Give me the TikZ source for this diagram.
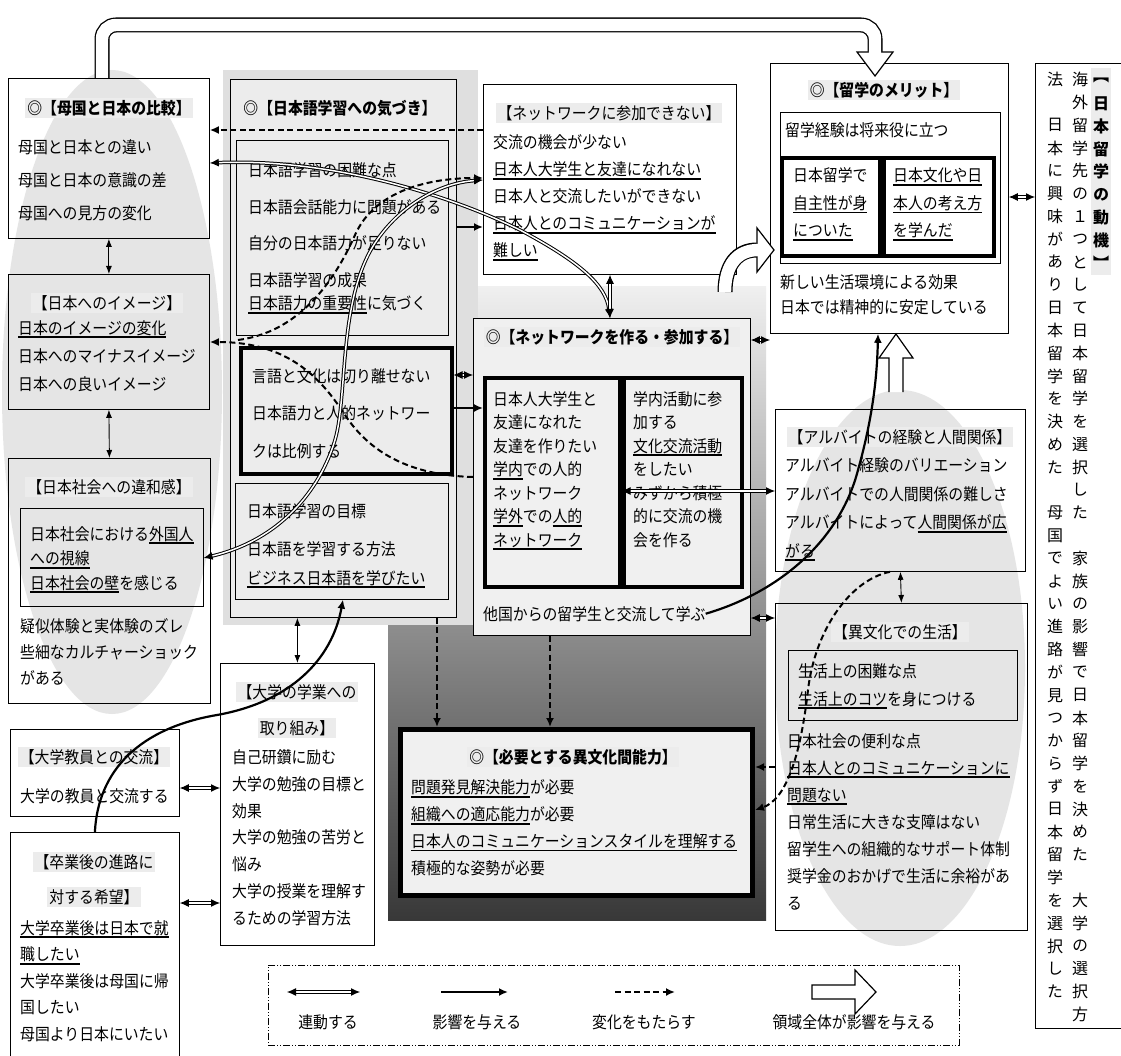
\documentclass[tikz,border=0pt]{standalone}
\usepackage{fontspec}
\setmainfont{Noto Sans CJK JP}[FakeStretch=0.9]
\newfontfamily\tatefont{Noto Sans CJK JP}[RawFeature=+vert]
\usetikzlibrary{arrows.meta}
\newcommand\ulj[1]{\setbox0\hbox{#1}\rlap{\rule[-4pt]{\wd0}{1.8pt}}\box0}
\newcommand\tateend{}
\def\tatechar#1{\ifx\tateend#1\else\vbox to 22.8pt{\vss\hbox to 18pt{\hss#1\hss}\vss}\expandafter\tatechar\fi}
\newcommand\tate[1]{\vbox{\offinterlineskip\tatechar#1\tateend}}

\begin{document}
\begin{tikzpicture}[x=1pt,y=-1pt,
  font=\fontsize{16.5}{22}\selectfont,
  panel/.style={draw,line width=0.8pt,anchor=north west,inner sep=0pt},
  heavy/.style={panel,line width=3.5pt},
  ttl/.style={fill=gray!15,inner sep=2pt,font=\fontsize{16.5}{22}\selectfont\bfseries},
  sub/.style={fill=gray!15,inner sep=2pt},
  lines/.style={anchor=base west,align=left,inner sep=0pt,font=\fontsize{16.5}{#1}\selectfont},
  lines/.default=27pt,
  link/.style={double,double distance=1.5pt,line width=1pt,{Latex[length=9pt,width=8pt]}-{Latex[length=9pt,width=8pt]}},
  twoway/.style={line width=0.9pt,{Latex[length=8pt,width=6pt]}-{Latex[length=8pt,width=6pt]}},
  effect/.style={line width=2.2pt,-{Latex[length=9pt,width=8pt]}},
  change/.style={line width=2pt,dash pattern=on 6pt off 3.5pt,-{Latex[length=9pt,width=8pt]}},
  pipe/.style={line width=15pt},
  pipein/.style={white,line width=12.4pt},
  head/.style={fill=white,draw,line width=1.2pt,line join=miter}]
  \fill[white] (0,0) rectangle (1121,1056);
  \useasboundingbox (0,0) rectangle (1121,1056);
  \shade[top color=gray!12,bottom color=black!78] (388,287) rectangle (766,920);
  \fill[gray!25] (223,70) rectangle (478,625);
  \fill[gray!20] (112,392) ellipse [x radius=110pt,y radius=322pt];
  \fill[gray!20] (900,668) ellipse [x radius=125pt,y radius=278pt];

  \node[panel,minimum width=201pt,minimum height=160pt] (hikaku) at (8,78) {};
  \node[panel,minimum width=201pt,minimum height=135pt] (imagebox) at (8,274) {};
  \node[panel,minimum width=202pt,minimum height=245pt] (iwakan) at (8,458) {};
  \node[panel,line width=0.6pt,minimum width=183pt,minimum height=98pt] (shisen) at (20,508) {};
  \node[panel,fill=gray!15,minimum width=226pt,minimum height=538pt] (kizuki) at (230,79) {};
  \node[panel,line width=0.6pt,minimum width=212pt,minimum height=195pt] (konnan) at (236,140) {};
  \node[heavy,minimum width=211pt,minimum height=126pt] (hirei) at (239,346) {};
  \node[panel,line width=0.6pt,minimum width=213pt,minimum height=116pt] (mokuhyo) at (235,483) {};
  \node[panel,fill=white,minimum width=253pt,minimum height=190pt] (sankanashi) at (483,84) {};
  \node[panel,fill=white,minimum width=238pt,minimum height=270pt] (merit) at (770,63) {};
  \node[panel,line width=0.6pt,minimum width=220pt,minimum height=151pt] (yakudatsu) at (780,112) {};
  \node[heavy,line width=4pt,minimum width=98pt,minimum height=98pt] (jishu) at (780,156) {};
  \node[heavy,line width=4pt,minimum width=110pt,minimum height=98pt] (bunka) at (882,156) {};
  \node[panel,minimum width=95pt,minimum height=965pt] (doki) at (1035,63) {};
  \node[panel,fill=gray!12,minimum width=277pt,minimum height=317pt] (network) at (473,318) {};
  \node[heavy,minimum width=135pt,minimum height=209pt] (tomodachi) at (483,376) {};
  \node[heavy,minimum width=118pt,minimum height=209pt] (katsudo) at (622,376) {};
  \node[panel,minimum width=250pt,minimum height=162pt] (baito) at (775,409) {};
  \node[panel,minimum width=252pt,minimum height=327pt] (ibunka) at (775,603) {};
  \node[panel,line width=0.6pt,minimum width=229pt,minimum height=70pt] (seikatsu) at (788,650) {};
  \node[panel,line width=5pt,fill=gray!12,minimum width=352pt,minimum height=166pt] (noryoku) at (398,727) {};
  \node[panel,fill=white,minimum width=169pt,minimum height=87pt] (kyoin) at (10,729) {};
  \node[panel,fill=white,minimum width=154pt,minimum height=282pt] (gakugyo) at (220,663) {};
  \node[panel,fill=white,minimum width=169pt,minimum height=230pt] (shinro) at (10,832) {};
  \node[panel,dash pattern=on 7pt off 2pt on 1pt off 2pt on 1pt off 2pt,minimum width=691pt,minimum height=80pt] (legend) at (268,965) {};

  \node[ttl] (hikakuttl) at (109,108) {◎【母国と日本の比較】};
  \node[ttl] (kizukittl) at (340,108) {◎【日本語学習への気づき】};
  \node[sub] (imagettl) at (107,303) {【日本へのイメージ】};
  \node[sub] (iwakanttl) at (109,487) {【日本社会への違和感】};
  \node[sub] (sankattl) at (609,113) {【ネットワークに参加できない】};
  \node[ttl] (meritttl) at (884,90) {◎【留学のメリット】};
  \node[ttl] (networkttl) at (612,337) {◎【ネットワークを作る・参加する】};
  \node[sub] (baitottl) at (900,437) {【アルバイトの経験と人間関係】};
  \node[sub] (ibunkattl) at (900,632) {【異文化での生活】};
  \node[ttl] (noryokuttl) at (573,757) {◎【必要とする異文化間能力】};
  \node[sub] (kyointtl) at (94,757) {【大学教員との交流】};
  \node[sub] (gakugyottl) at (297,692) {【大学の学業への};
  \node[sub] (gakugyottlb) at (297,728) {取り組み】};
  \node[sub] (shinrottl) at (94,862) {【卒業後の進路に};
  \node[sub] (shinrottlb) at (94,897) {対する希望】};

  \node[lines=33pt] (hikakutxt) at (18,220) {母国と日本との違い\\母国と日本の意識の差\\母国への見方の変化};
  \node[lines=36.5pt] (konnantxt) at (248,310) {日本語学習の困難な点\\日本語会話能力に問題がある\\自分の日本語力が足りない\\日本語学習の成果\\[-13pt]\ulj{日本語力の重要性}に気づく};
  \node[lines=37.5pt] (hireitxt) at (252,457) {言語と文化は切り離せない\\日本語力と人的ネットワー\\クは比例する};
  \node[lines=38pt] (mokuhyotxt) at (247,584) {日本語学習の目標\\日本語を学習する方法\\[-9pt]\ulj{ビジネス日本語を学びたい}};
  \node[lines=28pt] (imagetxt) at (18,390) {\ulj{日本のイメージの変化}\\日本へのマイナスイメージ\\日本への良いイメージ};
  \node[lines=24.5pt] (shisentxt) at (30,589) {日本社会における\ulj{外国人}\\\ulj{への視線}\\\ulj{日本社会の壁}を感じる};
  \node[lines=26pt] (iwakantxt) at (20,684) {疑似体験と実体験のズレ\\些細なカルチャーショック\\がある};
  \node[lines] (sankatxt) at (493,257) {交流の機会が少ない\\\ulj{日本人大学生と友達になれない}\\日本人と交流したいができない\\\ulj{日本人とのコミュニケーションが}\\\ulj{難しい}};
  \node[lines] (yakudatsutxt) at (785,137) {留学経験は将来役に立つ};
  \node[lines=27.5pt] (jishutxt) at (793,237) {日本留学で\\\ulj{自主性が身}\\\ulj{についた}};
  \node[lines=27.5pt] (bunkatxt) at (893,237) {\ulj{日本文化や日}\\\ulj{本人の考え方}\\\ulj{を学んだ}};
  \node[lines=25pt] (merittxt) at (780,314) {新しい生活環境による効果\\日本では精神的に安定している};
  \node[lines=23.5pt] (tomodachitxt) at (493,546) {日本人大学生と\\友達になれた\\友達を作りたい\\\ulj{学内}での人的\\ネットワーク\\\ulj{学外}での\ulj{人的}\\\ulj{ネットワーク}};
  \node[lines=23.5pt] (katsudotxt) at (633,546) {学内活動に参\\加する\\\ulj{文化交流活動}\\をしたい\\みずから積極\\的に交流の機\\会を作る};
  \node[lines] (tagoku) at (483,620) {他国からの留学生と交流して学ぶ};
  \node[lines=28.5pt] (baitotxt) at (785,557) {アルバイト経験のバリエーション\\アルバイトでの人間関係の難しさ\\アルバイトによって\ulj{人間関係が広}\\\ulj{がる}};
  \node[lines=28pt] (seikatsutxt) at (798,705) {生活上の困難な点\\\ulj{生活上のコツ}を身につける};
  \node[lines] (ibunkatxt) at (787,909) {日本社会の便利な点\\\ulj{日本人とのコミュニケーションに}\\\ulj{問題ない}\\日常生活に大きな支障はない\\留学生への組織的なサポート体制\\奨学金のおかげで生活に余裕があ\\る};
  \node[lines=26.7pt] (noryokutxt) at (411,874) {\ulj{問題発見解決能力}が必要\\\ulj{組織への適応能力}が必要\\\ulj{日本人のコミュニケーションスタイルを理解する}\\積極的な姿勢が必要};
  \node[lines] (kyointxt) at (20,802) {大学の教員と交流する};
  \node[lines=26.7pt] (gakugyotxt) at (232,924) {自己研鑽に励む\\大学の勉強の目標と\\効果\\大学の勉強の苦労と\\悩み\\大学の授業を理解す\\るための学習方法};
  \node[lines=26.5pt] (shinrotxt) at (20,1040) {\ulj{大学卒業後は日本で就}\\\ulj{職したい}\\大学卒業後は母国に帰\\国したい\\母国より日本にいたい};

  \node[sub,inner sep=1pt,anchor=north] (dokittl) at (1101,68) {\tatefont\bfseries\fontsize{16}{16}\selectfont\tate{【日本留学の動機】}};
  \node[anchor=north,inner sep=0pt] (dokia) at (1080,68) {\tatefont\fontsize{16}{16}\selectfont\tate{海外留学先の１つとして日本留学を選択した　家族の影響で日本留学を決めた　大学の選択方}};
  \node[anchor=north,inner sep=0pt] (dokib) at (1055,68) {\tatefont\fontsize{16}{16}\selectfont\tate{法　日本に興味があり日本留学を決めた　母国でよい進路が見つからず日本留学を選択した}};

  \draw[change] (sankanashi.west |- 0,130) -- (hikaku.east |- 0,130);
  \draw[effect] (kizuki.east |- 0,227) -- (sankanashi.west |- 0,227);
  \draw[link] (hikaku.east |- 0,163) .. controls (330,158) and (450,195) .. (520,230) .. controls (580,262) and (606,285) .. (network.north -| 610,0);
  \draw[link] (sankanashi.south -| 610,0) -- (network.north -| 610,0);
  \draw[change] (network.west |- 0,477) .. controls (400,475) and (365,445) .. (345,415) .. controls (322,380) and (290,342) .. (imagebox.east |- 0,342);
  \coordinate (fork) at (238,340);
  \draw[change] (fork) .. controls (300,332) and (335,280) .. (355,235) .. controls (375,190) and (430,178) .. (sankanashi.west |- 0,178);
  \draw[link] (shisen.east |- 0,558) .. controls (280,540) and (320,490) .. (335,440) .. controls (348,395) and (338,300) .. (375,243) .. controls (400,205) and (440,183) .. (sankanashi.west |- 0,180);
  \draw[link] (hirei.east |- 0,375) -- (network.west |- 0,375);
  \draw[effect] (hirei.east |- 0,408) -- (tomodachi.west |- 0,408);
  \draw[twoway] (kizuki.south -| gakugyo.north) -- (gakugyo.north);
  \draw[effect] (shinro.north) .. controls (98,770) and (140,728) .. (217,715) .. controls (290,702) and (332,660) .. (mokuhyo.south -| 343,0);
  \foreach \a/\b/\y in {kyoin/gakugyo/788,shinro/gakugyo/903,network/merit/340,network/ibunka/618,merit/doki/197}
    \draw[link] (\a.east |- 0,\y) -- (\b.west |- 0,\y);
  \draw[link] (tomodachi.east |- 0,491) -- (baito.west |- 0,491);
  \draw[twoway] (hikaku.south) -- (imagebox.north);
  \draw[twoway] (imagebox.south) -- (iwakan.north);
  \draw[twoway] (baito.south) -- (ibunka.north);
  \draw[change] (kizuki.south -| 437,0) -- (noryoku.north -| 437,0);
  \draw[change] (network.south -| 550,0) -- (noryoku.north -| 550,0);
  \draw[change] (ibunka.west |- 0,767) -- (noryoku.east |- 0,767);
  \draw[change] (baito.south -| 890,0) .. controls (850,580) and (815,630) .. (808,690) .. controls (800,760) and (785,800) .. (noryoku.east |- 0,810);
  \draw[effect] (tagoku.east) .. controls (780,592) and (840,540) .. (858,470) .. controls (872,420) and (877,380) .. (merit.south -| 878,0);

  \coordinate (pipestart) at (hikaku.north -| 102,0);
  \draw[pipe,rounded corners=14pt] (pipestart) -- (102,25) -- (875,25) -- (875,52);
  \draw[head] (857,52) -- (893,52) -- (875,76) -- cycle;
  \draw[pipein,rounded corners=14pt] (pipestart) -- (102,25) -- (875,25) -- (875,53.5);
  \draw[pipe] (725,292) .. controls (725,265) and (737,250) .. (757,250);
  \draw[head] (757,228) -- (774,250) -- (757,272) -- cycle;
  \draw[pipein] (725,292) .. controls (725,265) and (737,250) .. (758.5,250);
  \draw[head] (889,392) -- (889,358) -- (879,358) -- (896,334) -- (913,358) -- (903,358) -- (903,392);

  \coordinate (lg1a) at (287,992); \coordinate (lg1b) at (360,992);
  \coordinate (lg2a) at (441,992); \coordinate (lg2b) at (508,992);
  \coordinate (lg3a) at (615,992); \coordinate (lg3b) at (675,992);
  \draw[link] (lg1a) -- (lg1b);
  \draw[effect] (lg2a) -- (lg2b);
  \draw[change] (lg3a) -- (lg3b);
  \draw[head] (812,985) -- (855,985) -- (855,970) -- (876,992) -- (855,1014) -- (855,999) -- (812,999) -- cycle;
  \foreach \x/\t [count=\i] in {328/連動する,477/影響を与える,644/変化をもたらす,854/領域全体が影響を与える}
    \node (lgtxt\i) at (\x,1022) {\t};
\end{tikzpicture}
\end{document}
